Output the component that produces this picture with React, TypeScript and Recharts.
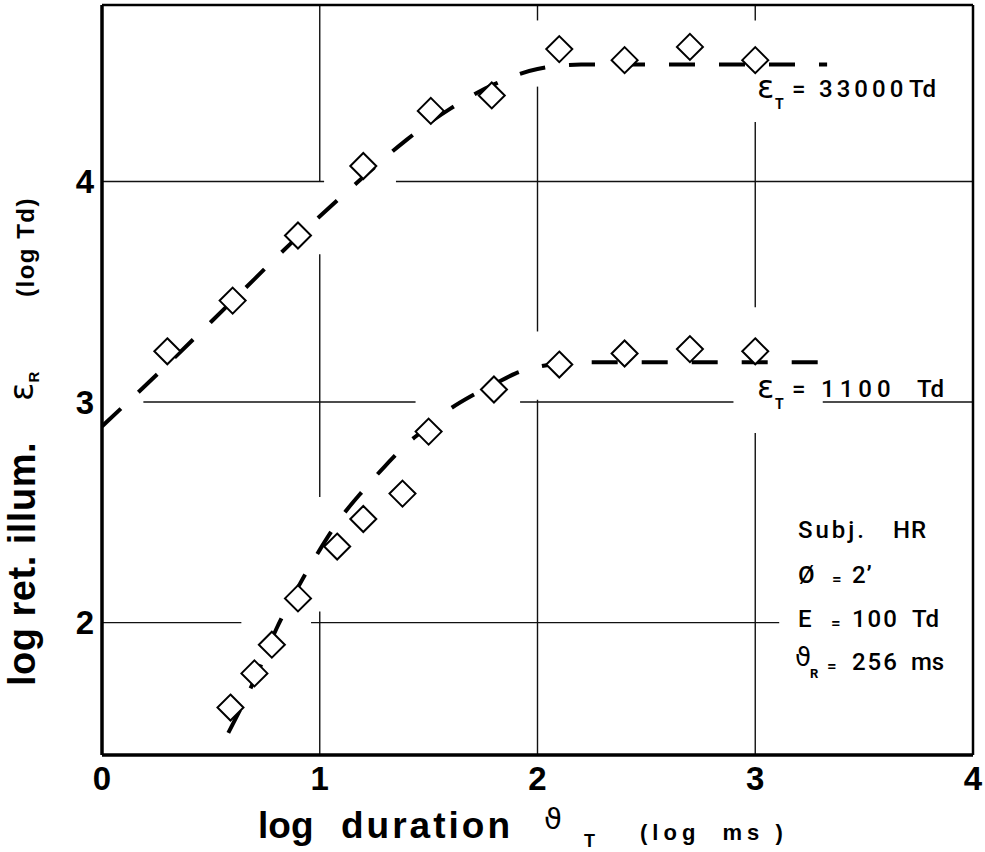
import React from 'react';
import { ComposedChart, Line, Scatter, XAxis, YAxis, ReferenceLine, ReferenceDot } from 'recharts';

// measured points, log duration (log ms) vs log retinal illuminance (log Td)
const highDur = [0.3, 0.6, 0.9, 1.2, 1.51, 1.79, 2.1, 2.4, 2.7, 3.0];
const highIllum = [3.23, 3.46, 3.755, 4.07, 4.32, 4.39, 4.6, 4.55, 4.61, 4.55];

const lowDur = [0.59, 0.7, 0.78, 0.9, 1.08, 1.2, 1.38, 1.5, 1.8, 2.1, 2.4, 2.7, 3.0];
const lowIllum = [1.615, 1.77, 1.9, 2.11, 2.345, 2.47, 2.585, 2.866, 3.057, 3.17, 3.22, 3.24, 3.23];

// hand drawn fitted curves
const highFitDur = [0, 0.3, 0.6, 0.9, 1.2, 1.4, 1.6, 1.8, 2.0, 2.2, 2.5, 2.8, 3.1, 3.33];
const highFitIllum = [2.89, 3.17, 3.46, 3.75, 4.02, 4.19, 4.33, 4.44, 4.51, 4.53, 4.53, 4.53, 4.53, 4.53];

const lowFitDur = [0.58, 0.7, 0.8, 0.9, 1.0, 1.1, 1.2, 1.3, 1.4, 1.5, 1.6, 1.7, 1.8, 1.9, 2.0, 2.2, 2.5, 2.8, 3.1, 3.32];
const lowFitIllum = [1.5, 1.74, 1.97, 2.16, 2.33, 2.48, 2.6, 2.71, 2.81, 2.89, 2.97, 3.03, 3.08, 3.13, 3.16, 3.18, 3.18, 3.18, 3.18, 3.18];

const xTicks = [0, 1, 2, 3, 4];
const yTicks = [2, 3, 4];

// grid lines are broken where text / curves cross them: [x1, y1, x2, y2]
const gridSegments = [
  [0, 4, 1.02, 4], [1.35, 4, 4, 4],
  [0.19, 3, 1.44, 3], [1.92, 3, 2.9, 3], [3.31, 3, 4, 3],
  [0, 2, 0.64, 2], [0.96, 2, 3.11, 2],
  [1, 4.8, 1, 4], [1, 3.67, 1, 2.57], [1, 2.05, 1, 1.4],
  [2, 4.8, 2, 4.73], [2, 4.43, 2, 3.32], [2, 3.01, 2, 1.4],
  [3, 4.8, 3, 4.73], [3, 4.27, 3, 3.43], [3, 2.86, 3, 1.4],
];

const zip = (xs: number[], ys: number[]) => xs.map((x, i) => ({ x, y: ys[i] }));

const highPoints = zip(highDur, highIllum);
const lowPoints = zip(lowDur, lowIllum);
const highFit = zip(highFitDur, highFitIllum);
const lowFit = zip(lowFitDur, lowFitIllum);

const SANS = 'Liberation Sans, Arial, Helvetica, sans-serif';
const MED = 'Roboto, Liberation Sans, Arial, sans-serif';
const GREEK = 'DejaVu Sans, sans-serif';

const Diamond = (props: any) => {
  const { cx, cy } = props;
  const r = 13;
  return (
    <path
      d={`M${cx},${cy - r}L${cx + r},${cy}L${cx},${cy + r}L${cx - r},${cy}Z`}
      fill="#fff"
      stroke="#000"
      strokeWidth={2}
    />
  );
};

type Piece = { t: string; dx: number; dy?: number; size: number; w?: number; family?: string; ls?: number };

const textBlock = (pieces: Piece[]) => (props: any) => {
  const vb = props.viewBox || { x: 0, y: 0 };
  const x0 = vb.x + (vb.width || 0) / 2;
  const y0 = vb.y + (vb.height || 0) / 2;
  return (
    <g>
      {pieces.map((p, i) => (
        <text
          key={i}
          x={x0 + p.dx}
          y={y0 + (p.dy || 0)}
          fontSize={p.size}
          fontFamily={p.family || MED}
          fontWeight={p.w || 500}
          letterSpacing={p.ls || 0}
          fill="#000"
          style={{ whiteSpace: 'pre' }}
        >
          {p.t}
        </text>
      ))}
    </g>
  );
};

const highLabel: Piece[] = [
  { t: 'ε', dx: -1, dy: 1, size: 32, family: GREEK, w: 400 },
  { t: 'T', dx: 17, dy: 12, size: 14, w: 700 },
  { t: '=', dx: 34, size: 24 },
  { t: '33000', dx: 61, size: 24, ls: 4 },
  { t: 'Td', dx: 151, size: 24 },
];

const lowLabel: Piece[] = [
  { t: 'ε', dx: -1, dy: 1, size: 32, family: GREEK, w: 400 },
  { t: 'T', dx: 17, dy: 12, size: 14, w: 700 },
  { t: '=', dx: 34, size: 24 },
  { t: '1100', dx: 63, size: 24, ls: 5 },
  { t: 'Td', dx: 159, size: 24 },
];

const infoLabel: Piece[] = [
  { t: 'Subj.', dx: 0, size: 24, ls: 3 },
  { t: 'HR', dx: 95, size: 24, ls: 1 },
  { t: 'Ø', dx: 0, dy: 45, size: 24 },
  { t: '=', dx: 34, dy: 47, size: 17 },
  { t: '2’', dx: 54, dy: 45, size: 24, ls: 1 },
  { t: 'E', dx: 0, dy: 89, size: 24 },
  { t: '=', dx: 33, dy: 91, size: 17 },
  { t: '100', dx: 54, dy: 89, size: 24, ls: 2 },
  { t: 'Td', dx: 114, dy: 89, size: 24 },
  { t: 'ϑ', dx: -3, dy: 128, size: 26, family: GREEK, w: 400 },
  { t: 'R', dx: 12, dy: 140, size: 13, w: 700 },
  { t: '=', dx: 29, dy: 134, size: 17 },
  { t: '256', dx: 54, dy: 132, size: 24, ls: 2 },
  { t: 'ms', dx: 113, dy: 132, size: 24 },
];

const XTitle = () => (
  <g fill="#000" fontFamily={SANS} fontWeight="bold">
    <text x={258} y={838} fontSize={37}>log</text>
    <text x={341} y={838} fontSize={37} letterSpacing={3}>duration</text>
    <text x={544} y={829} fontSize={29} fontFamily={GREEK} fontWeight="normal">ϑ</text>
    <text x={584} y={847} fontSize={18}>T</text>
    <text x={640} y={840} fontSize={22} letterSpacing={5} style={{ whiteSpace: 'pre' }}>(log  ms )</text>
  </g>
);

const YTitle = () => (
  <g fill="#000" fontFamily={SANS} fontWeight="bold">
    <text x={35} y={564} fontSize={38} textAnchor="middle" letterSpacing={0.5} transform="rotate(-90 35 564)">
      log ret. illum.
    </text>
    <text x={33} y={401} fontSize={34} fontFamily={GREEK} fontWeight="normal" transform="rotate(-90 33 401)">
      ε<tspan fontSize={15} fontFamily={SANS} fontWeight="bold" dy={6}>R</tspan>
    </text>
    <text x={34} y={247} fontSize={24} letterSpacing={1.5} textAnchor="middle" transform="rotate(-90 34 247)">
      (log Td)
    </text>
  </g>
);

export default function App() {
  return (
    <div style={{ position: 'absolute', left: 0, top: 0, width: 985, height: 852, background: '#fff' }}>
      <ComposedChart width={985} height={852} margin={{ top: 5, right: 12, bottom: 0, left: 0 }}>
        <XAxis
          type="number"
          dataKey="x"
          domain={[0, 4]}
          ticks={xTicks}
          allowDataOverflow
          height={97}
          tickLine={false}
          tickSize={0}
          tickMargin={12}
          axisLine={{ stroke: '#000', strokeWidth: 3.5 }}
          tick={{ fontSize: 33, fontWeight: 'bold', fill: '#000', fontFamily: SANS }}
          label={XTitle}
        />
        <YAxis
          type="number"
          dataKey="y"
          domain={[1.4, 4.8]}
          ticks={yTicks}
          allowDataOverflow
          width={102}
          tickLine={false}
          tickSize={0}
          tickMargin={8}
          axisLine={{ stroke: '#000', strokeWidth: 3.5 }}
          tick={{ fontSize: 33, fontWeight: 'bold', fill: '#000', fontFamily: SANS }}
          label={YTitle}
        />
        {gridSegments.map((s, i) => (
          <ReferenceLine
            key={i}
            segment={[{ x: s[0], y: s[1] }, { x: s[2], y: s[3] }]}
            stroke="#111"
            strokeWidth={1.4}
            ifOverflow="visible"
          />
        ))}
        <ReferenceLine y={4.8} stroke="#000" strokeWidth={2.5} ifOverflow="visible" />
        <ReferenceLine x={4} stroke="#000" strokeWidth={2.5} ifOverflow="visible" />
        <Line
          data={highFit}
          dataKey="y"
          type="monotone"
          stroke="#000"
          strokeWidth={4}
          strokeDasharray="26 24"
          dot={false}
          isAnimationActive={false}
        />
        <Line
          data={lowFit}
          dataKey="y"
          type="monotone"
          stroke="#000"
          strokeWidth={4}
          strokeDasharray="26 24"
          dot={false}
          isAnimationActive={false}
        />
        <Scatter data={highPoints} dataKey="y" shape={Diamond} isAnimationActive={false} />
        <Scatter data={lowPoints} dataKey="y" shape={Diamond} isAnimationActive={false} />
        <ReferenceDot x={3.013} y={4.381} r={0} fill="none" stroke="none" label={{ content: textBlock(highLabel) }} />
        <ReferenceDot x={3.013} y={3.025} r={0} fill="none" stroke="none" label={{ content: textBlock(lowLabel) }} />
        <ReferenceDot x={3.196} y={2.386} r={0} fill="none" stroke="none" label={{ content: textBlock(infoLabel) }} />
      </ComposedChart>
    </div>
  );
}
